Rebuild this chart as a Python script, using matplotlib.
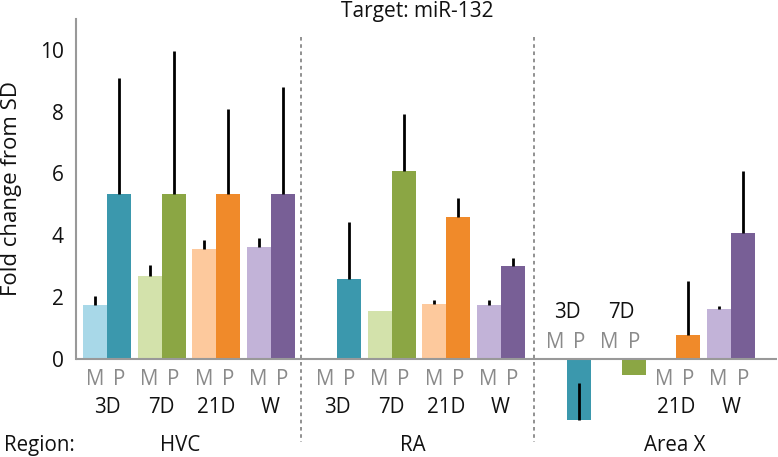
import numpy as np
import matplotlib
matplotlib.use("Agg")
import matplotlib.pyplot as plt

plt.rcParams['font.family'] = ['Open Sans', 'DejaVu Sans']

regions = ["HVC", "RA", "Area X"]
days = ["3D", "7D", "21D", "W"]

# M (light) and P (dark) values per region, per day
m_vals = {
    "HVC":    [1.73, 2.69, 3.56, 3.61],
    "RA":     [np.nan, 1.56, 1.79, 1.73],
    "Area X": [np.nan, np.nan, np.nan, 1.62],
}
m_err = {
    "HVC":    [0.29, 0.36, 0.30, 0.29],
    "RA":     [0.0, 0.0, 0.13, 0.19],
    "Area X": [0.0, 0.0, 0.0, 0.10],
}
p_vals = {
    "HVC":    [5.32, 5.32, 5.32, 5.32],
    "RA":     [2.60, 6.07, 4.59, 3.00],
    "Area X": [-1.97, -0.52, 0.76, 4.08],
}
p_err = {
    "HVC":    [3.76, 4.63, 2.78, 3.47],
    "RA":     [1.83, 1.87, 0.60, 0.25],
    "Area X": [1.20, 0.0, 1.75, 2.00],
}

m_colors = ["#a8d8e8", "#d3e2ab", "#fdc99d", "#c2b3d8"]
p_colors = ["#3b98ad", "#8ba644", "#f08a2a", "#785f96"]

FS = 14.8

fig = plt.figure(figsize=(7.78, 4.57), dpi=100)
ax = fig.add_axes([76/778, 1-426.8/457, 701/778, (426.8-19)/457])

group_gap = 4.22
bw = 0.44
for g, reg in enumerate(regions):
    for i, d in enumerate(days):
        x = g*group_gap + i
        mv = m_vals[reg][i]
        pv = p_vals[reg][i]
        if not np.isnan(mv):
            ax.bar(x - bw/2, mv, width=bw, color=m_colors[i], edgecolor='none', zorder=2)
            if m_err[reg][i] > 0:
                ax.errorbar(x - bw/2, mv, yerr=[[0], [m_err[reg][i]]], fmt='none',
                            ecolor='black', elinewidth=2, capsize=0, zorder=3)
        ax.bar(x + bw/2, pv, width=bw, color=p_colors[i], edgecolor='none', zorder=2)
        if p_err[reg][i] > 0:
            ax.errorbar(x + bw/2, pv, yerr=[[0], [p_err[reg][i]]], fmt='none',
                        ecolor='black', elinewidth=2, capsize=0, zorder=3)
        if reg == "Area X" and i < 2:
            ymp, yday = 0.52, 1.49
        else:
            ymp, yday = -0.68, -1.59
        ax.text(x - bw/2, ymp, "M", ha='center', va='center', fontsize=FS, color='#8a8a8a', clip_on=False)
        ax.text(x + bw/2, ymp, "P", ha='center', va='center', fontsize=FS, color='#8a8a8a', clip_on=False)
        ax.text(x, yday, d, ha='center', va='center', fontsize=FS, color='#111111', clip_on=False)

region_x = [1.34, 5.61, 10.42]
for rx, reg in zip(region_x, regions):
    ax.text(rx, -2.79, reg, ha='center', va='center', fontsize=FS, color='#111111', clip_on=False)
fig.text(4/778, 1-445/457, "Region:", ha='left', va='center', fontsize=FS, color='#111111')

for sx in [(3 + group_gap)/2 - 0.05, (3 + group_gap + 2*group_gap)/2]:
    ax.plot([sx, sx], [10.42, -2.69], linestyle=(0, (2, 2)), color='#888888', lw=1.3, clip_on=False, zorder=1)

ax.axhline(0, color='#999999', lw=1.5, zorder=4)

ax.set_xlim(-0.569, 12.29)
ax.set_ylim(-2.2, 11)
ax.set_yticks([0, 2, 4, 6, 8, 10])
ax.tick_params(axis='y', length=0, pad=9, labelsize=15, labelcolor='#111111')
ax.set_xticks([])
for s in ['top', 'right', 'bottom']:
    ax.spines[s].set_visible(False)
ax.spines['left'].set_color('#999999')
ax.spines['left'].set_linewidth(1.5)
ax.spines['left'].set_bounds(0, 11)
ax.patch.set_visible(False)

fig.text(12/778, 1-189/457, "Fold change from SD", rotation=90, ha='center', va='center', fontsize=16, color='#111111')
fig.text(417/778, 1-12/457, "Target: miR-132", ha='center', va='center', fontsize=15, color='#111111')

fig.savefig("out.png", dpi=100)
